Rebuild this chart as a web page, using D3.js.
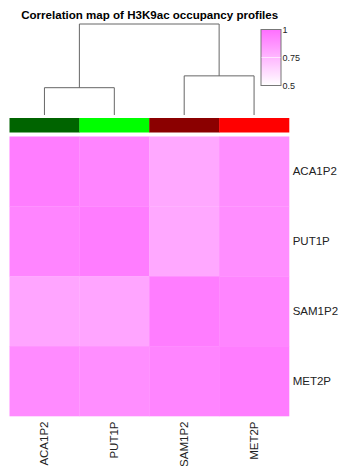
<!DOCTYPE html>
<html>
<head>
  <meta charset="UTF-8">
  <style>
    body { margin: 0; background: #fff; }
    svg { display: block; font-family: "Liberation Sans", Arial, sans-serif; }
  </style>
</head>
<body>
<svg></svg>
<script src="https://d3js.org/d3.v7.min.js"></script>
<script>

// samples, in dendrogram order
let samples = ["ACA1P2", "PUT1P", "SAM1P2", "MET2P"];
let sampleColors = ["#006400", "#00ff00", "#8b0000", "#ff0000"];

// correlation matrix (rows x columns, same order as samples)
let corr = [
  [0.95, 0.92, 0.80, 0.89],
  [0.92, 0.95, 0.80, 0.89],
  [0.81, 0.81, 0.95, 0.92],
  [0.90, 0.89, 0.92, 0.95]
];

// dendrogram merges: left/right are leaf indices or merge ids ("m0", ...)
let merges = [
  { id: "m0", left: 0, right: 1, height: 0.30 },
  { id: "m1", left: 2, right: 3, height: 0.43 },
  { id: "m2", left: "m0", right: "m1", height: 1.0 }
];

let legendTicks = [0.5, 0.75, 1];

let width = 339, height = 466;

let svg = d3.select("svg")
    .attr("width", width)
    .attr("height", height);

let x = d3.scaleBand().domain(samples).range([9.5, 289]);
let y = d3.scaleBand().domain(samples).range([136.5, 416]);

let color = d3.scaleLinear()
    .domain([0.5, 1])
    .range(["#ffffff", "#ff6eff"]);

// title
svg.append("text")
    .attr("x", 149.7)
    .attr("y", 19)
    .attr("text-anchor", "middle")
    .attr("textLength", 257)
    .attr("lengthAdjust", "spacingAndGlyphs")
    .style("font-size", "11px")
    .style("font-weight", "bold")
    .text("Correlation map of H3K9ac occupancy profiles");

// heatmap
let cells = [];
corr.forEach((row, i) => row.forEach((v, j) => cells.push({ r: samples[i], c: samples[j], v: v })));

svg.append("g")
    .selectAll("rect")
    .data(cells)
    .enter()
    .append("rect")
    .attr("x", d => x(d.c))
    .attr("y", d => y(d.r))
    .attr("width", x.bandwidth() + 0.3)
    .attr("height", y.bandwidth() + 0.3)
    .style("fill", d => color(d.v));

// sample colour bar
svg.append("g")
    .selectAll("rect")
    .data(samples)
    .enter()
    .append("rect")
    .attr("x", d => x(d))
    .attr("y", 118)
    .attr("width", x.bandwidth() + 0.3)
    .attr("height", 14.5)
    .style("fill", (d, i) => sampleColors[i]);

// row labels
svg.append("g")
    .selectAll("text")
    .data(samples)
    .enter()
    .append("text")
    .attr("x", 292.7)
    .attr("y", d => y(d) + y.bandwidth() / 2)
    .attr("dy", "0.35em")
    .style("font-size", "11.5px")
    .style("fill", "#222")
    .text(d => d);

// column labels
svg.append("g")
    .selectAll("text")
    .data(samples)
    .enter()
    .append("text")
    .attr("transform", d => "translate(" + (x(d) + x.bandwidth() / 2) + ",421.5) rotate(-90)")
    .attr("text-anchor", "end")
    .attr("dy", "0.35em")
    .style("font-size", "11.5px")
    .style("fill", "#222")
    .text(d => d);

// dendrogram
let h = d3.scaleLinear().domain([0, 1]).range([115, 24]);
let nodes = {};
samples.forEach((s, i) => nodes[i] = { x: x(s) + x.bandwidth() / 2, y: h(0) });

let dendro = svg.append("g")
    .attr("fill", "none")
    .attr("stroke", "#666")
    .attr("stroke-width", 1);

merges.forEach(m => {
  let a = nodes[m.left], b = nodes[m.right], top = h(m.height);
  dendro.append("path")
      .attr("d", "M" + a.x + "," + a.y + "V" + top + "H" + b.x + "V" + b.y);
  nodes[m.id] = { x: (a.x + b.x) / 2, y: top };
});

// colour key
let ky = d3.scaleLinear().domain([0.5, 1]).range([85.5, 29.5]);
let grad = svg.append("defs").append("linearGradient")
    .attr("id", "keyGrad")
    .attr("x1", 0).attr("y1", 1).attr("x2", 0).attr("y2", 0);
grad.selectAll("stop")
    .data(d3.range(0, 1.01, 0.1))
    .enter()
    .append("stop")
    .attr("offset", d => d)
    .attr("stop-color", d => color(0.5 + d * 0.5));

svg.append("rect")
    .attr("x", 261)
    .attr("y", ky(1))
    .attr("width", 20)
    .attr("height", ky(0.5) - ky(1))
    .style("fill", "url(#keyGrad)")
    .style("stroke", "#777")
    .style("stroke-width", 1);

svg.append("line")
    .attr("x1", 261.5).attr("x2", 280.5)
    .attr("y1", ky(0.75)).attr("y2", ky(0.75))
    .style("stroke", "#fff")
    .style("stroke-opacity", 0.6);

svg.append("g")
    .selectAll("text")
    .data(legendTicks)
    .enter()
    .append("text")
    .attr("x", 282.5)
    .attr("y", d => ky(d))
    .attr("dy", "0.35em")
    .style("font-size", "9px")
    .style("fill", "#222")
    .text(d => d);

</script>
</body>
</html>
